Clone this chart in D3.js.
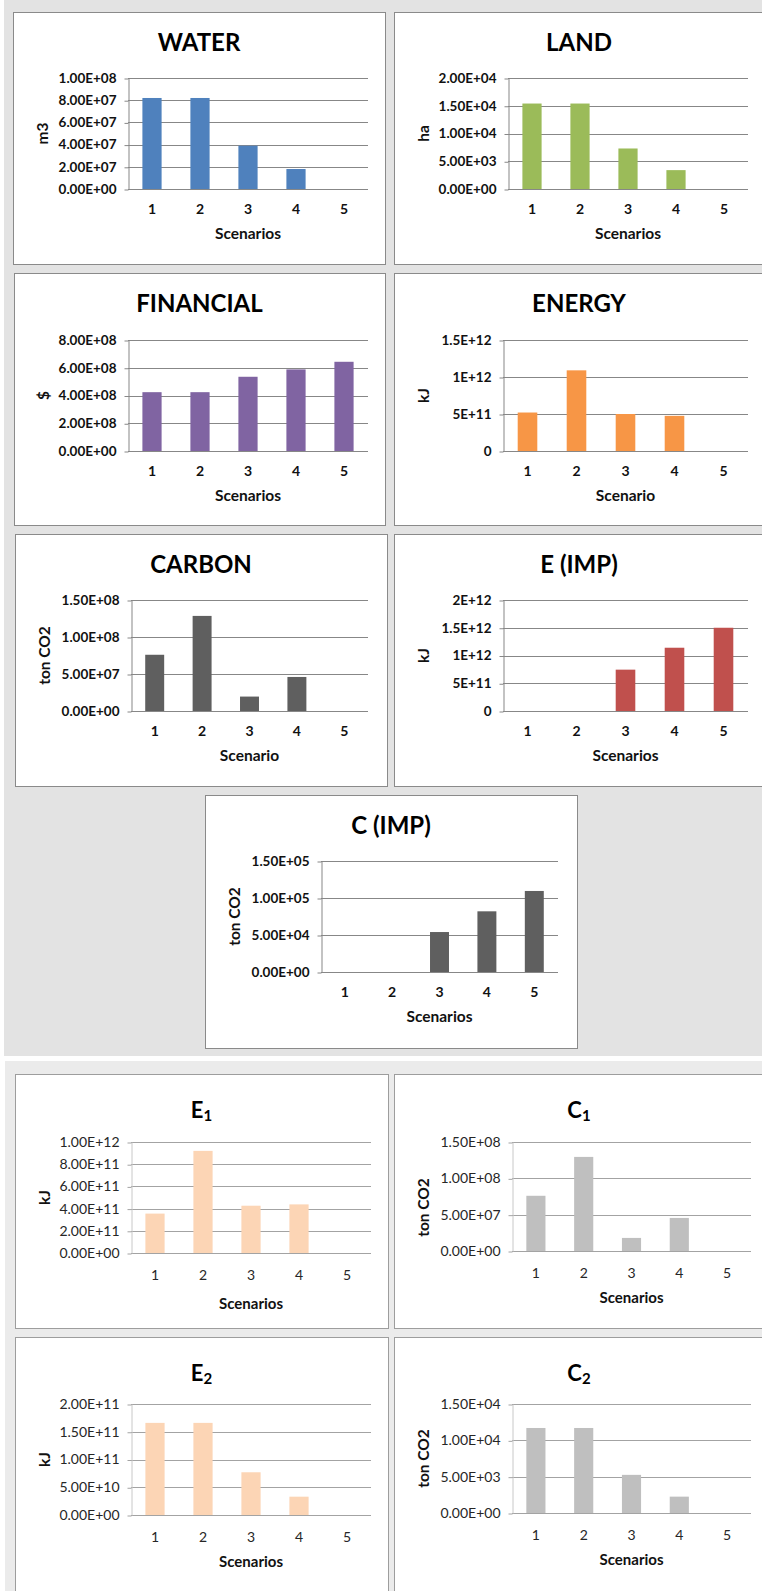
<!DOCTYPE html>
<html><head><meta charset="utf-8">
<script src="https://cdn.jsdelivr.net/npm/d3@7"></script>
<style>body{margin:0;background:#fff}svg{display:block}</style>
</head><body><svg id="c" width="762" height="1591"></svg>
<script>
// ---------- data ----------
const categories = ["1", "2", "3", "4", "5"];

const waterValues     = [8.2e7, 8.2e7, 3.9e7, 1.8e7, 0];
const landValues      = [1.54e4, 1.54e4, 7.3e3, 3.4e3, 0];
const financialValues = [4.24e8, 4.24e8, 5.35e8, 5.88e8, 6.43e8];
const energyValues    = [5.2e11, 1.09e12, 5.0e11, 4.75e11, 0];
const carbonValues    = [7.6e7, 1.285e8, 1.95e7, 4.6e7, 0];
const eImpValues      = [0, 0, 7.45e11, 1.14e12, 1.5e12];
const cImpValues      = [0, 0, 5.4e4, 8.2e4, 1.095e5];
const e1Values        = [3.55e11, 9.2e11, 4.26e11, 4.38e11, 0];
const c1Values        = [7.6e7, 1.295e8, 1.8e7, 4.55e7, 0];
const e2Values        = [1.66e11, 1.66e11, 7.7e10, 3.3e10, 0];
const c2Values        = [1.17e4, 1.17e4, 5.25e3, 2.25e3, 0];

const waterTicks = [0, 2e7, 4e7, 6e7, 8e7, 1e8];
const waterTickLabels = ["0.00E+00", "2.00E+07", "4.00E+07", "6.00E+07", "8.00E+07", "1.00E+08"];
const landTicks = [0, 5e3, 1e4, 1.5e4, 2e4];
const landTickLabels = ["0.00E+00", "5.00E+03", "1.00E+04", "1.50E+04", "2.00E+04"];
const financialTicks = [0, 2e8, 4e8, 6e8, 8e8];
const financialTickLabels = ["0.00E+00", "2.00E+08", "4.00E+08", "6.00E+08", "8.00E+08"];
const energyTicks = [0, 5e11, 1e12, 1.5e12];
const energyTickLabels = ["0", "5E+11", "1E+12", "1.5E+12"];
const carbonTicks = [0, 5e7, 1e8, 1.5e8];
const carbonTickLabels = ["0.00E+00", "5.00E+07", "1.00E+08", "1.50E+08"];
const eImpTicks = [0, 5e11, 1e12, 1.5e12, 2e12];
const eImpTickLabels = ["0", "5E+11", "1E+12", "1.5E+12", "2E+12"];
const cImpTicks = [0, 5e4, 1e5, 1.5e5];
const cImpTickLabels = ["0.00E+00", "5.00E+04", "1.00E+05", "1.50E+05"];
const e1Ticks = [0, 2e11, 4e11, 6e11, 8e11, 1e12];
const e1TickLabels = ["0.00E+00", "2.00E+11", "4.00E+11", "6.00E+11", "8.00E+11", "1.00E+12"];
const c1Ticks = [0, 5e7, 1e8, 1.5e8];
const c1TickLabels = ["0.00E+00", "5.00E+07", "1.00E+08", "1.50E+08"];
const e2Ticks = [0, 5e10, 1e11, 1.5e11, 2e11];
const e2TickLabels = ["0.00E+00", "5.00E+10", "1.00E+11", "1.50E+11", "2.00E+11"];
const c2Ticks = [0, 5e3, 1e4, 1.5e4];
const c2TickLabels = ["0.00E+00", "5.00E+03", "1.00E+04", "1.50E+04"];

// ---------- layout ----------
const panels = [
  {title:"WATER", values:waterValues, ticks:waterTicks, labels:waterTickLabels, yTitle:"m3", xTitle:"Scenarios", color:"#4f81bd", box:[13,12,372,252], plot:[128,368,78,189], sec:"top"},
  {title:"LAND", values:landValues, ticks:landTicks, labels:landTickLabels, yTitle:"ha", xTitle:"Scenarios", color:"#9bbb59", box:[394,12,370,252], plot:[508,748,78,189], sec:"top"},
  {title:"FINANCIAL", values:financialValues, ticks:financialTicks, labels:financialTickLabels, yTitle:"$", xTitle:"Scenarios", color:"#8064a2", box:[14,273,371,252], plot:[128,368,340,451], sec:"top"},
  {title:"ENERGY", values:energyValues, ticks:energyTicks, labels:energyTickLabels, yTitle:"kJ", xTitle:"Scenario", color:"#f79646", box:[394,273,370,252], plot:[503,748,340,451], sec:"top"},
  {title:"CARBON", values:carbonValues, ticks:carbonTicks, labels:carbonTickLabels, yTitle:"ton CO2", xTitle:"Scenario", color:"#5f5f5f", box:[15,534,372,252], plot:[131,368,600,711], sec:"top"},
  {title:"E (IMP)", values:eImpValues, ticks:eImpTicks, labels:eImpTickLabels, yTitle:"kJ", xTitle:"Scenarios", color:"#c0504d", box:[394,534,370,252], plot:[503,748,600,711], sec:"top"},
  {title:"C (IMP)", values:cImpValues, ticks:cImpTicks, labels:cImpTickLabels, yTitle:"ton CO2", xTitle:"Scenarios", color:"#5f5f5f", box:[205,795,372,253], plot:[321,558,861,972], sec:"top"},
  {title:"E", sub:"1", values:e1Values, ticks:e1Ticks, labels:e1TickLabels, yTitle:"kJ", xTitle:"Scenarios", color:"#fcd5b5", box:[15,1074,373,254], plot:[131,371,1142,1253], sec:"bot", xtOff:56},
  {title:"C", sub:"1", values:c1Values, ticks:c1Ticks, labels:c1TickLabels, yTitle:"ton CO2", xTitle:"Scenarios", color:"#bfbfbf", box:[394,1074,370,254], plot:[512,751,1142,1251], sec:"bot", yOff:11},
  {title:"E", sub:"2", values:e2Values, ticks:e2Ticks, labels:e2TickLabels, yTitle:"kJ", xTitle:"Scenarios", color:"#fcd5b5", box:[15,1337,373,260], plot:[131,371,1404,1515], sec:"bot"},
  {title:"C", sub:"2", values:c2Values, ticks:c2Ticks, labels:c2TickLabels, yTitle:"ton CO2", xTitle:"Scenarios", color:"#bfbfbf", box:[394,1337,370,260], plot:[512,751,1404,1513], sec:"bot"}
];

const FONT = "Lato, 'Open Sans', sans-serif";
const svg = d3.select("#c");

// backgrounds
svg.append("rect").attr("x",0).attr("y",0).attr("width",762).attr("height",1591).attr("fill","#ffffff");
svg.append("rect").attr("x",4).attr("y",0).attr("width",758).attr("height",1056).attr("fill","#e3e3e3");
svg.append("rect").attr("x",5).attr("y",1061).attr("width",757).attr("height",530).attr("fill","#ebebeb");

panels.forEach(p => {
  const top = p.sec === "top";
  const [bx, by, bw, bh] = p.box;
  const [x0, x1, yTop, yZero] = p.plot;
  const g = svg.append("g");

  g.append("rect").attr("x", bx + 0.5).attr("y", by + 0.5).attr("width", bw).attr("height", bh)
    .attr("fill", "#ffffff").attr("stroke", top ? "#8a8a8a" : "#9d9d9d").attr("stroke-width", 1);

  const x = d3.scaleBand().domain(categories).range([x0, x1]).padding(0);
  const y = d3.scaleLinear().domain([0, d3.max(p.ticks)]).range([yZero, yTop]);

  const gridColor = top ? "#878787" : "#a3a3a3";

  // gridlines
  g.append("g").selectAll("line").data(p.ticks).join("line")
    .attr("x1", x0).attr("x2", x1)
    .attr("y1", d => Math.round(y(d)) + 0.5).attr("y2", d => Math.round(y(d)) + 0.5)
    .attr("stroke", gridColor).attr("stroke-width", 1);

  // bars
  const bwid = x.bandwidth() * 0.4;
  g.append("g").selectAll("rect").data(p.values).join("rect")
    .attr("x", (d, i) => x(categories[i]) + (x.bandwidth() - bwid) / 2)
    .attr("width", bwid)
    .attr("y", d => y(d))
    .attr("height", d => y(0) - y(d))
    .attr("fill", p.color);

  // y axis
  const ya = g.append("g").attr("transform", `translate(${x0 + 0.5},0)`)
    .call(d3.axisLeft(y).tickValues(p.ticks).tickFormat((d, i) => p.labels[i]).tickSize(4).tickSizeOuter(0).tickPadding(8));
  ya.select(".domain").attr("stroke", top ? "#878787" : "#c8c8c8");
  ya.selectAll(".tick line").attr("stroke", gridColor).attr("transform", "translate(0,0.5)");
  ya.selectAll(".tick text").attr("font-family", FONT).attr("font-size", top ? 13.5 : 14)
    .attr("font-weight", top ? "bold" : "normal").attr("fill", top ? "#111" : "#262626");

  // x axis
  const xa = g.append("g").attr("transform", `translate(0,${yZero})`)
    .call(d3.axisBottom(x).tickSize(0).tickPadding(top ? 15.5 : 17));
  xa.select(".domain").remove();
  xa.selectAll(".tick text").attr("font-family", FONT).attr("font-size", 14)
    .attr("font-weight", top ? "bold" : "normal").attr("fill", top ? "#111" : "#262626");

  // title
  const cx = bx + bw / 2;
  const t = g.append("text").attr("x", cx).attr("y", by + (top ? 38.7 : 43.5))
    .attr("text-anchor", "middle").attr("font-family", FONT).attr("font-weight", "bold")
    .attr("font-size", top ? 24 : 22).attr("fill", "#000");
  t.append("tspan").text(p.title);
  if (p.sub) t.append("tspan").attr("dy", 3).attr("font-size", 15).text(p.sub);

  // x title
  g.append("text").attr("x", (x0 + x1) / 2).attr("y", yZero + (p.xtOff || (top ? 50.3 : 52)))
    .attr("text-anchor", "middle").attr("font-family", FONT).attr("font-weight", "bold")
    .attr("font-size", top ? 15.5 : 15).attr("fill", "#111").text(p.xTitle);

  // y title
  const ty = (yTop + yZero) / 2 + (p.yOff || 0);
  g.append("text").attr("transform", `translate(${bx + 29},${ty}) rotate(-90)`)
    .attr("text-anchor", "middle").attr("dominant-baseline", "central")
    .attr("font-family", FONT).attr("font-weight", "bold").attr("font-size", 15.5).attr("fill", "#111")
    .text(p.yTitle);
});
</script>
</body></html>
